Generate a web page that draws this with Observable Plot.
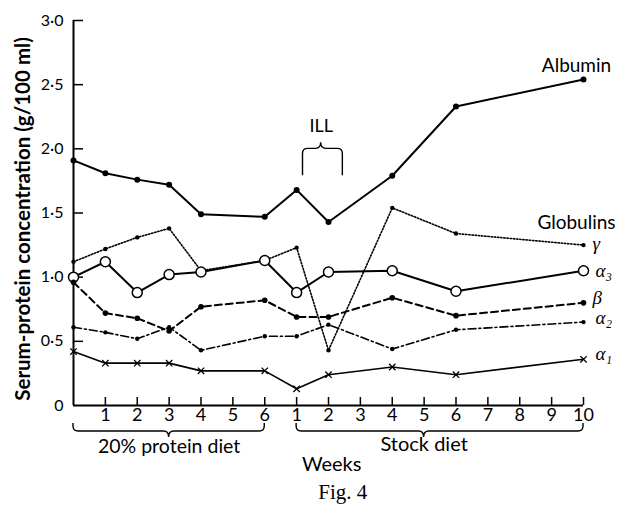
<!DOCTYPE html>
<html><head><meta charset="utf-8">
<script src="https://cdn.jsdelivr.net/npm/d3@7"></script>
<script src="https://cdn.jsdelivr.net/npm/@observablehq/plot@0.6"></script>
<style>body{margin:0;background:#fff}</style>
</head><body><div id="chart"></div>
<script>
// Cumulative week position: 0–6 = 20% protein diet, 7–16 = stock diet weeks 1–10
const weekPos = [0, 1, 2, 3, 4, 6, 7, 8, 10, 12, 16];
const albumin = [1.91, 1.81, 1.76, 1.72, 1.49, 1.47, 1.68, 1.43, 1.79, 2.33, 2.54];
const gamma   = [1.12, 1.22, 1.31, 1.38, 1.05, 1.13, 1.23, 0.43, 1.54, 1.34, 1.25];
const alpha3  = [1.00, 1.12, 0.88, 1.02, 1.04, 1.13, 0.88, 1.04, 1.05, 0.89, 1.05];
const beta    = [0.96, 0.72, 0.68, 0.58, 0.77, 0.82, 0.69, 0.69, 0.84, 0.70, 0.80];
const alpha2  = [0.61, 0.57, 0.52, 0.61, 0.43, 0.54, 0.54, 0.63, 0.44, 0.59, 0.65];
const alpha1  = [0.42, 0.33, 0.33, 0.33, 0.27, 0.27, 0.13, 0.24, 0.30, 0.24, 0.36];

const xTicks = [1,2,3,4,5,6,7,8,9,10,11,12,13,14,15,16];
const xTickLabels = ["1","2","3","4","5","6","1","2","3","4","5","6","7","8","9","10"];
const yTicks = [0, 0.5, 1, 1.5, 2, 2.5, 3];

// Annotation extents (in week positions)
const dietBrace = [0, 3, 6];
const stockBrace = [7, 11, 16];
const illBrace = [7.2, 7.77, 8.45];
const illBraceY = [1.79, 2.0];

const rows = (vals) => weekPos.map((x, i) => ({x, y: vals[i]}));
const last = (vals) => [{x: weekPos[weekPos.length - 1], y: vals[vals.length - 1]}];
const yFmt = d => d === 0 ? "0" : d.toFixed(1).replace(".", "·");

function bracePath(x1, xm, x2, yEnd, yMid, yTip) {
  const r = 5;
  const s = Math.sign(yMid - yEnd);
  return `M${x1},${yEnd}L${x1},${yMid - s*r}Q${x1},${yMid} ${x1 + r},${yMid}` +
    `L${xm - r},${yMid}Q${xm},${yMid} ${xm},${yTip}Q${xm},${yMid} ${xm + r},${yMid}` +
    `L${x2 - r},${yMid}Q${x2},${yMid} ${x2},${yMid - s*r}L${x2},${yEnd}`;
}

function braces(index, scales) {
  const x = scales.x, y = scales.y;
  const g = d3.create("svg:g").attr("fill", "none").attr("stroke", "black").attr("stroke-width", 1.4);
  const y0 = y(0);
  for (const [a, m, b] of [dietBrace, stockBrace]) {
    g.append("path").attr("d", bracePath(x(a), x(m), x(b), y0 + 18, y0 + 26, y0 + 32));
  }
  g.append("path").attr("d", bracePath(x(illBrace[0]), x(illBrace[1]), x(illBrace[2]),
    y(illBraceY[0]), y(illBraceY[1]), y(illBraceY[1]) - 6));
  return g.node();
}

const serifItalic = {fontFamily: "Liberation Serif", fontStyle: "italic", fontSize: 19, textAnchor: "start"};

const chart = Plot.plot({
  width: 617,
  height: 511,
  marginLeft: 73,
  marginRight: 34,
  marginTop: 20,
  marginBottom: 106,
  style: {fontFamily: "Lato", fontSize: "16px", background: "white", overflow: "visible"},
  x: {domain: [0, 16], label: null},
  y: {domain: [0, 3], label: null},
  marks: [
    // axes lines and inward ticks
    Plot.ruleY([0], {x1: 0, x2: 16, strokeWidth: 2}),
    Plot.ruleX([0], {y1: 0, y2: 3, strokeWidth: 2}),
    Plot.ruleX(xTicks, {x: d => d, y1: d => 0, y2: d => 0, insetTop: -8, strokeWidth: 1.5}),
    Plot.ruleY(yTicks.filter(d => d > 0), {y: d => d, x1: d => 0, x2: d => 0, insetRight: -10, strokeWidth: 1.5}),
    Plot.axisX(xTicks, {tickSize: 0, tickPadding: 3, tickFormat: d => xTickLabels[d - 1], fontSize: 18, label: null}),
    Plot.axisY(yTicks, {tickSize: 0, tickPadding: 10, tickFormat: yFmt, fontSize: 16, label: null}),
    Plot.text(["Serum-protein concentration (g/100 ml)"], {frameAnchor: "left", textAnchor: "middle", rotate: -90, dx: -50, dy: 6, fontWeight: "bold", fontSize: 20.5}),

    // series lines
    Plot.line(rows(albumin), {x: "x", y: "y", strokeWidth: 2}),
    Plot.line(rows(gamma), {x: "x", y: "y", strokeWidth: 1.6, strokeDasharray: "1.4,1.8"}),
    Plot.line(rows(alpha3), {x: "x", y: "y", strokeWidth: 2}),
    Plot.line(rows(beta), {x: "x", y: "y", strokeWidth: 2, strokeDasharray: "7,4"}),
    Plot.line(rows(alpha2), {x: "x", y: "y", strokeWidth: 1.6, strokeDasharray: "8,3,2,3"}),
    Plot.line(rows(alpha1), {x: "x", y: "y", strokeWidth: 1.6}),

    // markers
    Plot.dot(rows(albumin), {x: "x", y: "y", r: 3, fill: "black"}),
    Plot.dot(rows(gamma), {x: "x", y: "y", r: 2.2, fill: "black"}),
    Plot.dot(rows(alpha3), {x: "x", y: "y", r: 5, fill: "white", stroke: "black", strokeWidth: 1.5}),
    Plot.dot(rows(beta), {x: "x", y: "y", r: 2.8, fill: "black"}),
    Plot.dot(rows(alpha2), {x: "x", y: "y", r: 2.2, fill: "black"}),
    Plot.dot(rows(alpha1), {x: "x", y: "y", r: 3, symbol: "times", stroke: "black", strokeWidth: 1.3}),

    // series labels
    Plot.text(last(albumin), {x: "x", y: "y", text: () => "Albumin", dx: -7, dy: -14, fontSize: 19}),
    Plot.text(last(gamma), {x: "x", y: "y", text: () => "Globulins", dx: -7, dy: -22, fontSize: 19}),
    Plot.text(last(gamma), {x: "x", y: "y", text: () => "γ", dx: 9, dy: -1, ...serifItalic}),
    Plot.text(last(alpha3), {x: "x", y: "y", text: () => "α₃", dx: 12, dy: 0, ...serifItalic}),
    Plot.text(last(beta), {x: "x", y: "y", text: () => "β", dx: 9, dy: -5, ...serifItalic}),
    Plot.text(last(alpha2), {x: "x", y: "y", text: () => "α₂", dx: 12, dy: -4, ...serifItalic}),
    Plot.text(last(alpha1), {x: "x", y: "y", text: () => "α₁", dx: 12, dy: -5, ...serifItalic}),

    // annotations
    braces,
    Plot.text([illBrace[1]], {x: d => d, y: illBraceY[1], text: () => "ILL", dy: -23, fontSize: 18}),
    Plot.text([dietBrace[1]], {x: d => d, frameAnchor: "bottom", text: () => "20% protein diet", dy: 47, fontSize: 19.5}),
    Plot.text([stockBrace[1]], {x: d => d, frameAnchor: "bottom", text: () => "Stock diet", dy: 45, fontSize: 20}),
    Plot.text([8.1], {x: d => d, frameAnchor: "bottom", text: () => "Weeks", dy: 65, fontSize: 20}),
    Plot.text([8.45], {x: d => d, frameAnchor: "bottom", text: () => "Fig. 4", dy: 93, fontSize: 21, fontFamily: "Liberation Serif"})
  ]
});
document.getElementById("chart").append(chart);
</script>
</body></html>
